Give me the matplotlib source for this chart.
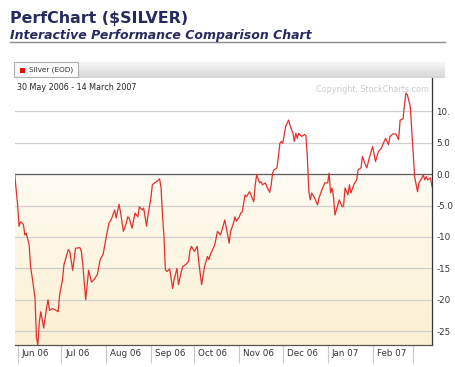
import numpy as np
import pandas as pd
import matplotlib

matplotlib.use("Agg")
import matplotlib.pyplot as plt
import matplotlib.dates as mdates
from matplotlib.transforms import ScaledTranslation
from matplotlib.patches import Rectangle
from matplotlib.colors import LinearSegmentedColormap

# ---- data ----
START = "2006-05-30"
END = "2007-03-14"
# days since 30 May 2006
day = [
    0, 2, 3, 4, 6, 7, 8, 10, 11, 12, 14, 15, 16, 17, 18, 20, 22, 23, 24, 26,
    28, 30, 31, 33, 34, 36, 37, 38, 40, 42, 45, 46, 47, 49, 51, 53, 55, 57, 59, 61,
    63, 65, 66, 67, 69, 70, 72, 73, 75, 77, 78, 79, 81, 83, 85, 86, 88, 89, 91, 92,
    94, 95, 97, 98, 100, 101, 102, 103, 104, 105, 107, 109, 110, 112, 113, 115, 116, 118, 120, 121,
    122, 124, 126, 127, 129, 131, 133, 134, 135, 138, 140, 142, 144, 145, 147, 148, 149, 151, 152, 153,
    155, 156, 157, 158, 159, 160, 162, 163, 165, 166, 167, 169, 170, 171, 173, 174, 176, 177, 178, 179,
    181, 182, 183, 184, 185, 186, 187, 188, 189, 190, 192, 193, 194, 195, 196, 198, 200, 201, 202, 203,
    204, 205, 207, 209, 210, 212, 214, 216, 217, 218, 219, 220, 221, 223, 224, 226, 227, 228, 230, 231,
    232, 234, 236, 237, 239, 240, 242, 243, 245, 247, 249, 251, 253, 254, 256, 258, 259, 261, 263, 265,
    266, 268, 269, 270, 271, 273, 274, 275, 276, 278, 279, 281, 282, 283, 284, 285, 287, 288,
]
silver = [
    0.0, -4.9, -8.3, -7.6, -8.0, -9.7, -9.4, -11.3, -14.9, -16.3, -19.7, -26.0, -27.2, -23.5, -21.9, -24.5, -21.3, -20.0, -21.7, -21.4,
    -21.6, -21.9, -19.2, -16.8, -14.4, -12.8, -12.0, -12.3, -15.3, -11.8, -11.7, -12.3, -14.4, -20.0, -15.3, -17.2, -16.7, -16.0, -13.6, -12.8,
    -10.2, -7.8, -7.5, -7.0, -5.7, -7.0, -4.8, -6.0, -9.1, -7.8, -6.8, -7.0, -8.6, -6.2, -6.8, -5.2, -5.7, -5.4, -8.3, -6.5,
    -3.8, -1.7, -1.3, -1.2, -0.75, -2.2, -6.5, -9.9, -15.2, -15.5, -15.1, -18.2, -16.8, -15.0, -17.6, -15.5, -14.7, -14.4, -13.9, -12.1,
    -11.5, -12.3, -11.5, -13.9, -17.6, -14.7, -13.1, -13.6, -12.8, -11.3, -9.1, -9.7, -8.1, -7.3, -9.7, -11.0, -9.1, -7.8, -6.8, -7.5,
    -6.8, -6.2, -6.0, -4.6, -3.3, -3.6, -2.8, -3.3, -4.4, -1.7, -0.1, -1.4, -1.2, -1.7, -1.4, -2.0, -2.9, -1.7, 0.15, 0.7,
    1.0, 2.8, 4.9, 5.2, 4.9, 6.3, 7.6, 8.1, 8.6, 7.8, 6.5, 5.2, 6.5, 5.7, 6.5, 6.0, 6.3, 6.1, 2.5, -2.8,
    -4.1, -3.0, -3.8, -4.9, -3.8, -2.5, -1.4, -1.4, 0.15, -3.0, -2.2, -3.6, -6.5, -4.9, -4.1, -5.2, -5.0, -2.2, -3.3, -1.7,
    -3.0, -1.7, -0.9, 0.7, 1.0, 2.8, 1.5, 1.0, 2.8, 4.4, 2.0, 3.6, 4.1, 4.7, 5.7, 4.7, 6.0, 6.4, 6.4, 5.5,
    8.6, 8.8, 11.0, 12.9, 12.6, 10.8, 7.1, 3.3, -0.4, -2.8, -1.4, -0.6, -0.1, -0.9, -0.4, -0.9, -0.6, -2.0,
]
y_ticks = [10, 5, 0, -5, -10, -15, -20, -25]
y_ticklabels = ["10.", "5.0", "0.0", "-5.0", "-10", "-15", "-20", "-25"]
month_ticks = pd.date_range("2006-06-01", "2007-03-01", freq="MS")
month_labels = [d.strftime("%b %y") for d in month_ticks[:-1]] + [""]

dates = pd.Timestamp(START) + pd.to_timedelta(day, unit="D")

NAVY = "#272a5e"
W, H = 456, 367

fig = plt.figure(figsize=(W / 100, H / 100), dpi=100)
fig.patch.set_facecolor("white")

# ---- header ----
fig.text(10 / W, 1 - 22.5 / H, "PerfChart ($SILVER)", fontsize=11.4, fontweight="bold",
         color=NAVY, va="baseline", ha="left")
fig.text(10 / W, 1 - 38.5 / H, "Interactive Performance Comparison Chart", fontsize=9.0,
         fontweight="bold", fontstyle="italic", color=NAVY, va="baseline", ha="left")
fig.add_artist(plt.Line2D([10 / W, 445 / W], [1 - 41.5 / H, 1 - 41.5 / H],
                          color="#8a8a8a", linewidth=1.0))

# ---- legend tab bar ----
bar = fig.add_axes([14 / W, 1 - 78 / H, (445 - 14) / W, 16 / H])
grad = np.linspace(0, 1, 32).reshape(-1, 1)
bar.imshow(grad, aspect="auto", extent=(0, 1, 0, 1), origin="upper",
           cmap=LinearSegmentedColormap.from_list("tab", ["#f6f6f6", "#d6d6d6"]))
bar.set_xlim(0, 1)
bar.set_ylim(0, 1)
bar.axis("off")
fig.add_artist(Rectangle((14 / W, 1 - 77 / H), 64 / W, 15 / H, transform=fig.transFigure,
                         facecolor="#fbfbfb", edgecolor="#b0b0b0", linewidth=0.8))
fig.add_artist(Rectangle((20 / W, 1 - 72.5 / H), 5 / W, 5 / H, transform=fig.transFigure,
                         facecolor="#e01010", edgecolor="none"))
fig.text(29 / W, 1 - 70 / H, "Silver (EOD)", fontsize=5.2, color="#333333", va="center", ha="left")

# ---- main chart ----
ax = fig.add_axes([14.7 / W, 1 - 345 / H, (432 - 14.7) / W, (345 - 78) / H])
x0, x1 = pd.Timestamp(START), pd.Timestamp(END)
ymin, ymax = -27.2, 15.3
ax.set_xlim(x0, x1)
ax.set_ylim(ymin, ymax)

# cream gradient below the zero line
shade = np.linspace(0, 1, 64).reshape(-1, 1)
ax.imshow(shade, aspect="auto", origin="upper",
          extent=(mdates.date2num(x0), mdates.date2num(x1), ymin, 0),
          cmap=LinearSegmentedColormap.from_list("cream", ["#fffbf2", "#fbf0d2"]), zorder=0)

for v in y_ticks:
    if v == 0:
        continue
    ax.axhline(v, color="#cfcfcf", linewidth=0.9, zorder=1)
ax.axhline(0, color="#5a5a5a", linewidth=0.9, zorder=2)

ax.plot(dates, silver, color="#e23030", linewidth=0.9, zorder=3)

for s in ["top", "left"]:
    ax.spines[s].set_visible(False)
ax.spines["right"].set_color("#333333")
ax.spines["right"].set_linewidth(0.9)
ax.spines["bottom"].set_color("#555555")
ax.spines["bottom"].set_linewidth(0.9)

ax.yaxis.tick_right()
ax.set_yticks(y_ticks)
ax.set_yticklabels(y_ticklabels)
ax.tick_params(axis="y", length=0, pad=3, labelsize=6.3, labelcolor="#333333")

ax.set_xticks(month_ticks)
ax.set_xticklabels(month_labels)
ax.tick_params(axis="x", direction="out", length=13, width=0.8, color="#c8c8c8",
               pad=-10, labelsize=6.3, labelcolor="#333333")
offset = ScaledTranslation(4 / 100, 0, fig.dpi_scale_trans)
for lab in ax.get_xticklabels():
    lab.set_horizontalalignment("left")
    lab.set_transform(lab.get_transform() + offset)

ax.text(17 / W, 1 - 88 / H, "30 May 2006 - 14 March 2007", transform=fig.transFigure,
        fontsize=5.8, color="#222222", va="center", ha="left")
ax.text(429 / W, 1 - 89 / H, "Copyright, StockCharts.com", transform=fig.transFigure,
        fontsize=5.8, color="#cccccc", va="center", ha="right")

fig.savefig("out.png", dpi=100)
